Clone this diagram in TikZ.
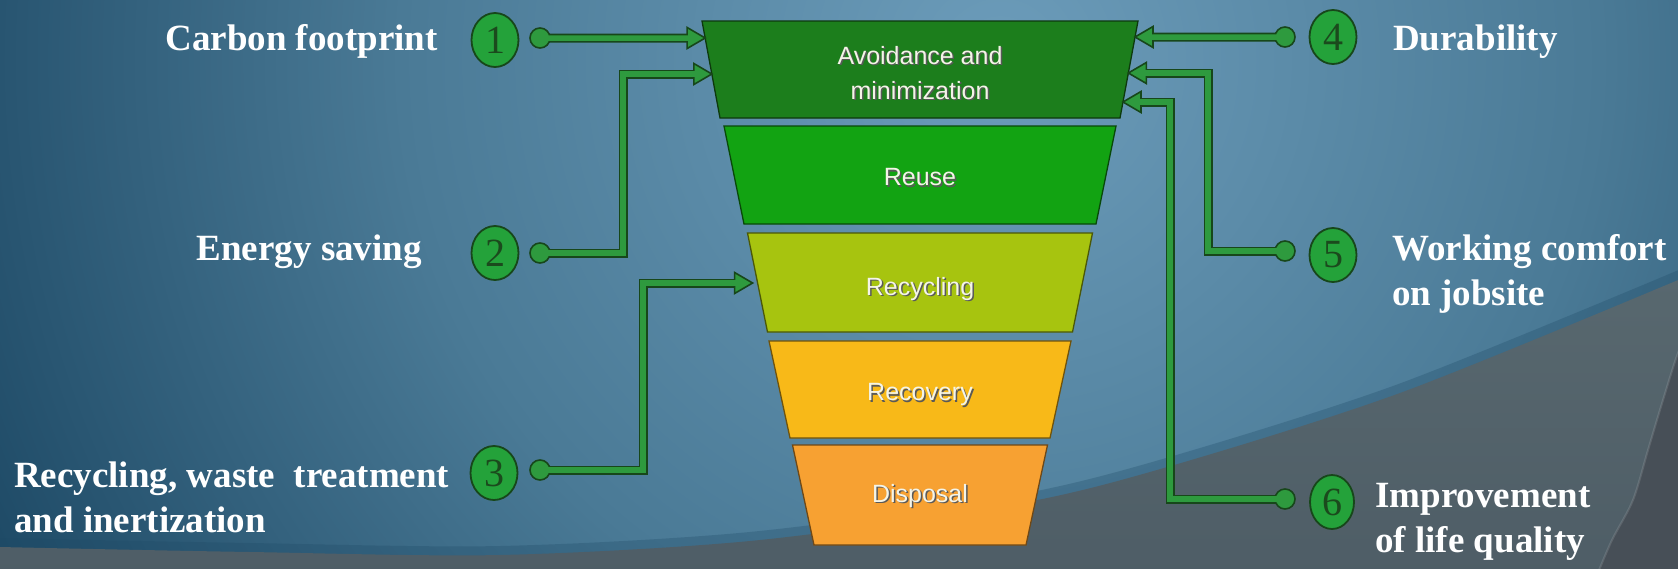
\documentclass[tikz,border=0pt]{standalone}
\usepackage{fontspec}
\setmainfont{Liberation Serif}
\newfontfamily\funnelfont{Liberation Sans}
\usetikzlibrary{calc,shapes.geometric}

\definecolor{bgcenter}{HTML}{6C9CBA}
\definecolor{bgmid}{HTML}{4A7A96}
\definecolor{bgedge}{HTML}{1E4A66}
\definecolor{greyband}{HTML}{58686F}
\definecolor{greylow}{HTML}{4E5D66}
\definecolor{greydark}{HTML}{474F57}
\definecolor{tierA}{HTML}{1C7E1C}
\definecolor{tierB}{HTML}{12A312}
\definecolor{tierC}{HTML}{A7C40F}
\definecolor{tierD}{HTML}{F8B918}
\definecolor{tierE}{HTML}{F7A132}
\definecolor{tiertextcol}{HTML}{F4F4E8}
\definecolor{linkgreen}{HTML}{2E9A3E}
\definecolor{linkdark}{HTML}{17471A}
\definecolor{badgegreen}{HTML}{24A23A}
\definecolor{digitgreen}{HTML}{1B4A1D}

% soft glow behind the upper middle of the slide
\pgfdeclareradialshading{backglow}{\pgfpoint{0bp}{0bp}}{%
  color(0bp)=(bgcenter); color(7.5bp)=(bgmid); color(14bp)=(bgedge); color(50bp)=(bgedge)}

% text with a small drop shadow
\newcommand{\shadowed}[1]{\makebox[0pt][l]{\hspace*{1.5pt}\raisebox{-1.5pt}{\textcolor{black!65}{#1}}}#1}

% one band of the funnel: name, top y, bottom y, top half width, bottom half width, colour
\newcommand{\tier}[6]{%
  \coordinate (#1-tl) at ({920-#4},#2);
  \coordinate (#1-tr) at ({920+#4},#2);
  \coordinate (#1-br) at ({920+#5},#3);
  \coordinate (#1-bl) at ({920-#5},#3);
  \filldraw[fill=#6, draw=#6!45!black, line width=1.3]
    (#1-tl) -- (#1-tr) -- (#1-br) -- (#1-bl) -- cycle;
}

% connector: dot, route, arrow tip, direction (1 = right, -1 = left)
\newcommand{\drawlink}[4]{%
  \draw[linkouter] (#1) #2 ($(#3)+({-17*#4},0)$);
  \filldraw[linkend] (#1) circle (10pt);
  \filldraw[linkend] (#3) -- ++({-18*#4},10.5) -- ++(0,-21) -- cycle;
  \draw[linkinner] (#1) #2 ($(#3)+({-7*#4},0)$);
}

\begin{document}
\begin{tikzpicture}[x=1pt,y=-1pt,
  captiontext/.style={text=white, font=\bfseries\fontsize{37}{45}\selectfont, inner sep=0, align=left},
  tiertext/.style={text=tiertextcol, font=\funnelfont\fontsize{25}{35}\selectfont, align=center, inner sep=0},
  badge/.style={ellipse, fill=badgegreen, draw=linkdark, line width=1.8, minimum width=47,
    minimum height=54, inner sep=0, text=digitgreen, font=\fontsize{40}{40}\selectfont},
  linkouter/.style={draw=linkdark, line width=9, line join=miter},
  linkinner/.style={draw=linkgreen, line width=5.5, line join=miter},
  linkend/.style={fill=linkgreen, draw=linkdark, line width=1.6}]

\useasboundingbox (0,0) rectangle (1678,568);
\clip (0,0) rectangle (1678,568);

% background
\fill[bgedge] (0,0) rectangle (1678,568);
\shade[shading=backglow] (1000,60) circle (2000pt);
\draw[bgedge, opacity=.3, line width=18]
  plot[smooth] coordinates {(-10,546) (0,547) (250,552) (500,555) (750,541) (1000,507) (1150,472) (1400,393) (1690,275)};
\shade[top color=greyband, bottom color=greylow]
  plot[smooth] coordinates {(-10,546) (0,547) (250,552) (500,555) (750,541) (1000,507) (1150,472) (1400,393) (1690,275)}
  -- (1690,580) -- (-10,580) -- cycle;
\fill[greydark]
  plot[smooth] coordinates {(1690,330) (1678,353) (1663,400) (1648,450) (1633,500) (1612,540) (1597,575)}
  -- (1690,580) -- cycle;
\draw[white, opacity=.12, line width=2]
  plot[smooth] coordinates {(1690,330) (1678,353) (1663,400) (1648,450) (1633,500) (1612,540) (1597,575)};

% funnel
\tier{L1}{21}{118}{218}{200}{tierA}
\tier{L2}{126}{224}{196}{176}{tierB}
\tier{L3}{233}{332}{172.5}{152.5}{tierC}
\tier{L4}{341}{438}{151}{130}{tierD}
\tier{L5}{445}{545}{127.5}{106}{tierE}

\node[tiertext] (avoid) at (920,73.5) {\shadowed{Avoidance and}\\\shadowed{minimization}};
\node[tiertext] (reuse) at (920,178) {\shadowed{Reuse}};
\node[tiertext] (recyc) at (920,289.5) {\shadowed{Recycling}};
\node[tiertext] (recov) at (920,395.5) {\shadowed{Recovery}};
\node[tiertext] (dispo) at (920,496.5) {\shadowed{Disposal}};

% numbered badges
\node[badge] (n1) at (495,40) {1};
\node[badge] (n2) at (495,253) {2};
\node[badge] (n3) at (494,473) {3};
\node[badge] (n4) at (1333,37) {4};
\node[badge] (n5) at (1333,255) {5};
\node[badge, minimum width=44] (n6) at (1332,502) {6};

% connector ends
\coordinate (d1) at (540,38);
\coordinate (d2) at (540,253);
\coordinate (d3) at (540,470);
\coordinate (d4) at (1285,37);
\coordinate (d5) at (1285,251);
\coordinate (d6) at (1285,499);
\coordinate (t1) at ($(L1-tl)!{17/97}!(L1-bl)$);
\coordinate (t2) at ($(L1-tl)!{53/97}!(L1-bl)$);
\coordinate (t3) at ($(L3-tl)!{50/99}!(L3-bl) + (-5,0)$);
\coordinate (t4) at ($(L1-tr)!{16/97}!(L1-br)$);
\coordinate (t5) at ($(L1-tr)!{52/97}!(L1-br)$);
\coordinate (t6) at ($(L1-tr)!{81/97}!(L1-br)$);

% connectors
\drawlink{d1}{--}{t1}{1}
\drawlink{d2}{-- ++(83,0) |-}{t2}{1}
\drawlink{d3}{-- ++(103,0) |-}{t3}{1}
\drawlink{d4}{--}{t4}{-1}
\drawlink{d5}{-- ++(-77,0) |-}{t5}{-1}
\drawlink{d6}{-- ++(-115,0) |-}{t6}{-1}

% captions
\node[captiontext, anchor=base east] (c1) at (438,50) {Carbon footprint};
\node[captiontext, anchor=base east] (c2) at (422,260) {Energy saving};
\node[captiontext, anchor=west] (c3) at (14,497) {Recycling, waste~~treatment\\and inertization};
\node[captiontext, anchor=base west] (c4) at (1393,50) {Durability};
\node[captiontext, anchor=west] (c5) at (1392,274) {Working comfort\\on jobsite};
\node[captiontext, anchor=west] (c6) at (1375,521.5) {Improvement\\of life quality};

\end{tikzpicture}
\end{document}
